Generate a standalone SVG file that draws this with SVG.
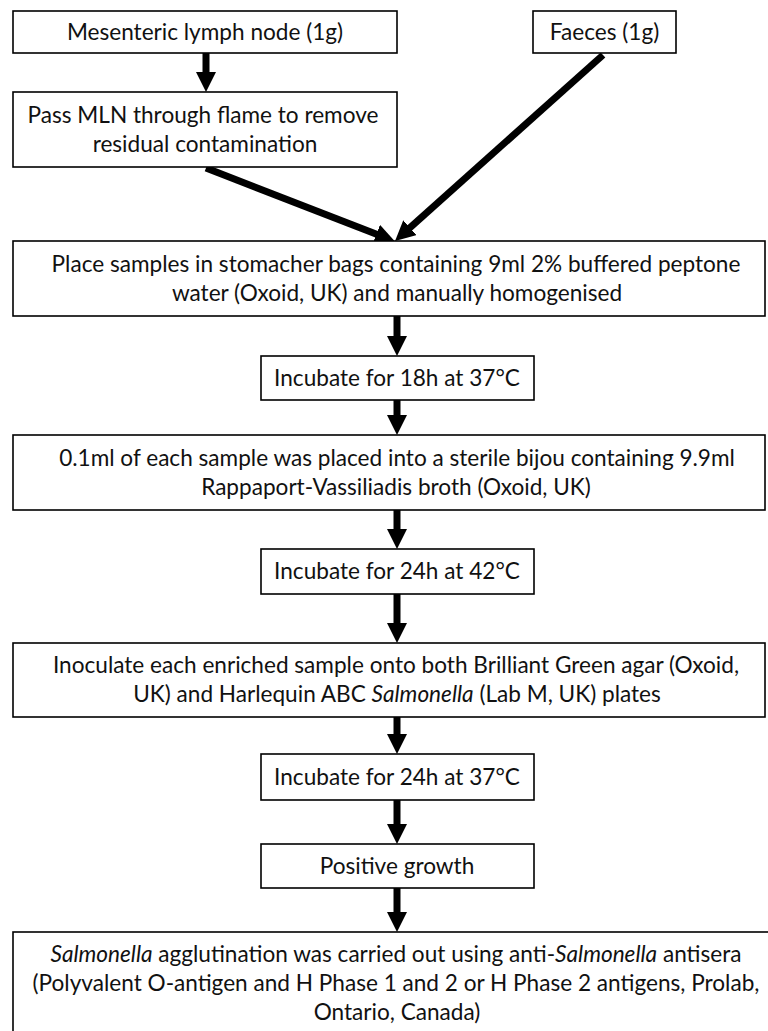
<svg xmlns="http://www.w3.org/2000/svg" width="768" height="1031" viewBox="0 0 768 1031">
<style>
.box{fill:#fff;stroke:#000;stroke-width:1.6}
.t{font-family:Lato,"Open Sans","Liberation Sans",sans-serif;font-size:22.6px;fill:#111;text-anchor:middle}
.i{font-style:italic}
.a{stroke:#000;stroke-width:7;fill:none;marker-end:url(#ah)}
</style>
<defs>
<marker id="ah" markerUnits="userSpaceOnUse" markerWidth="20" markerHeight="20" refX="1" refY="10" orient="auto">
<path d="M0,0 L20,10 L0,20 z" fill="#000"/>
</marker>
</defs>
<rect width="768" height="1031" fill="#fff"/>
<g id="connectors">
<line class="a" x1="206" y1="53" x2="206" y2="73"/>
<line class="a" x1="206" y1="168" x2="377.3" y2="234.5"/>
<line class="a" x1="603" y1="55" x2="409.2" y2="228.3"/>
<line class="a" x1="397" y1="316" x2="397" y2="337"/>
<line class="a" x1="397" y1="400" x2="397" y2="416"/>
<line class="a" x1="397" y1="510" x2="397" y2="530"/>
<line class="a" x1="397" y1="594" x2="397" y2="624"/>
<line class="a" x1="397" y1="717" x2="397" y2="735"/>
<line class="a" x1="397" y1="800" x2="397" y2="825"/>
<line class="a" x1="397" y1="888" x2="397" y2="913"/>
</g>
<g id="n1"><rect class="box" x="13" y="11" width="384" height="42"/><text class="t" x="205" y="40">Mesenteric lymph node (1g)</text></g>
<g id="n2"><rect class="box" x="533" y="11" width="143" height="42"/><text class="t" x="604.5" y="40">Faeces (1g)</text></g>
<g id="n3"><rect class="box" x="13" y="92" width="384" height="75"/><text class="t" x="203" y="123">Pass MLN through flame to remove</text><text class="t" x="205" y="152">residual contamination</text></g>
<g id="n4"><rect class="box" x="13" y="241" width="752" height="75"/><text class="t" x="396" y="272">Place samples in stomacher bags containing 9ml 2% buffered peptone</text><text class="t" x="397" y="301">water (Oxoid, UK) and manually homogenised</text></g>
<g id="n5"><rect class="box" x="261" y="356" width="273" height="44"/><text class="t" x="397" y="386">Incubate for 18h at 37°C</text></g>
<g id="n6"><rect class="box" x="13" y="435" width="752" height="75"/><text class="t" x="397" y="466">0.1ml of each sample was placed into a sterile bijou containing 9.9ml</text><text class="t" x="396" y="495">Rappaport-Vassiliadis broth (Oxoid, UK)</text></g>
<g id="n7"><rect class="box" x="261" y="549" width="273" height="45"/><text class="t" x="397" y="579">Incubate for 24h at 42°C</text></g>
<g id="n8"><rect class="box" x="13" y="643" width="752" height="74"/><text class="t" x="396" y="673">Inoculate each enriched sample onto both Brilliant Green agar (Oxoid,</text><text class="t" x="397" y="702">UK) and Harlequin ABC <tspan class="i">Salmonella</tspan> (Lab M, UK) plates</text></g>
<g id="n9"><rect class="box" x="261" y="754" width="273" height="46"/><text class="t" x="397" y="785">Incubate for 24h at 37°C</text></g>
<g id="n10"><rect class="box" x="261" y="844" width="273" height="44"/><text class="t" x="397" y="874">Positive growth</text></g>
<g id="n11"><rect class="box" x="13" y="932" width="760" height="110"/><text class="t" x="396" y="962"><tspan class="i">Salmonella</tspan> agglutination was carried out using anti-<tspan class="i">Salmonella</tspan> antisera</text><text class="t" x="396" y="991">(Polyvalent O-antigen and H Phase 1 and 2 or H Phase 2 antigens, Prolab,</text><text class="t" x="397" y="1020">Ontario, Canada)</text></g>
</svg>
